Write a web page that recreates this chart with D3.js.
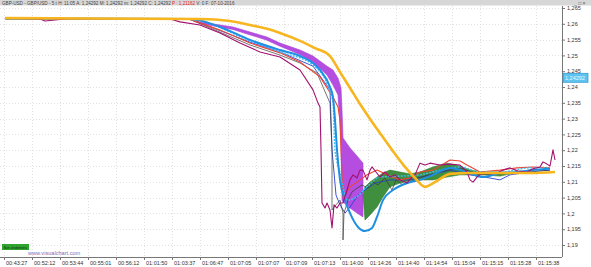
<!DOCTYPE html>
<html>
<head>
<meta charset="utf-8">
<script src="https://cdn.jsdelivr.net/npm/d3@7"></script>
<style>
  body { margin: 0; background: #fff; }
  svg { display: block; font-family: "Liberation Sans", Arial, sans-serif; }
</style>
</head>
<body>
<div id="chart"></div>
<script>
width = 591;
height = 267;
plot_box = {left: 0, right: 562, top: 6, bottom: 257};

// time labels every 28 bars (5 tick bars)
timeLabels = ["00:43:27", "00:52:12", "00:53:44", "00:55:01", "00:56:12", "01:01:50", "01:03:37",
              "01:06:47", "01:07:05", "01:07:07", "01:07:09", "01:07:13", "01:14:00", "01:14:26",
              "01:14:40", "01:14:54", "01:15:04", "01:15:15", "01:15:28", "01:15:38"];
priceTicks = [1.19, 1.195, 1.2, 1.205, 1.21, 1.215, 1.22, 1.225, 1.23, 1.235, 1.24, 1.245, 1.25, 1.255, 1.26, 1.265];
lastPrice = 1.24292;

// [bar, price]
slowAvg = [[1,1.2618],[196,1.2615],[226,1.2609],[246,1.2596],[263,1.2584],[276,1.2571],[296,1.2546],
  [311,1.2523],[326,1.2498],[336,1.2447],[346,1.2397],[356,1.2346],[366,1.2299],[376,1.2254],
  [388,1.2201],[401,1.2147],[411,1.2112],[421,1.2084],[431,1.2099],[446,1.2125],[466,1.2128],
  [496,1.2128],[526,1.2128],[551,1.2131]];

// [bar, upper, lower]
violetBand = [[1,1.2617,1.2615],[186,1.2615,1.2614],[196,1.2606,1.2601],[229,1.2590,1.2582],
  [263,1.2558,1.2548],[276,1.2539,1.2529],[296,1.2517,1.2503],[309,1.2498,1.2479],[323,1.2466,1.2438],
  [329,1.2454,1.2406],[334,1.2428,1.2375],[337,1.2397,1.2232],[338,1.2327,1.2042],[339,1.2239,1.2036],
  [346,1.2207,1.2017],[353,1.2182,1.2001],[359,1.2159,1.1989]];

greenBand = [[359,1.2058,1.2058],[361,1.2084,1.1979],[366,1.2099,1.1995],[373,1.2115,1.2020],
  [379,1.2128,1.2052],[386,1.2137,1.2084],[396,1.2131,1.2096],[406,1.2125,1.2103],[416,1.2131,1.2106],
  [429,1.2147,1.2106],[443,1.2159,1.2115],[456,1.2150,1.2122],[466,1.2137,1.2122],[479,1.2131,1.2122],
  [496,1.2131,1.2118],[511,1.2128,1.2128]];

fastAvg = [[1,1.2617],[186,1.2615],[216,1.2590],[246,1.2549],[276,1.2517],[296,1.2498],[309,1.2476],
  [316,1.2454],[326,1.2400],[329,1.2368],[331,1.2296],[333,1.2201],[336,1.2106],[341,1.2042],
  [346,1.2001],[354,1.1957],[361,1.1944],[368,1.1954],[373,1.1989],[379,1.2042],[389,1.2074],
  [403,1.2096],[416,1.2106],[429,1.2122],[446,1.2144],[463,1.2131],[479,1.2115],[496,1.2128],
  [513,1.2131],[529,1.2137],[546,1.2141]];

dottedAvg = [[1,1.2615],[186,1.2614],[246,1.2546],[276,1.2511],[309,1.2470],[326,1.2384],[329,1.2349],
  [331,1.2201],[336,1.2128],[339,1.2084],[343,1.2042],[351,1.2049],[363,1.2084],[376,1.2115],
  [396,1.2118],[416,1.2122],[436,1.2137],[456,1.2147],[476,1.2131],[496,1.2131],[526,1.2144],[546,1.2144]];

redAvg = [[1,1.2615],[186,1.2614],[216,1.2580],[246,1.2539],[276,1.2508],[296,1.2479],[316,1.2432],
  [329,1.2368],[334,1.2337],[336,1.2296],[337,1.2201],[338,1.2122],[339,1.2052],[343,1.2068],
  [346,1.2084],[356,1.2106],[363,1.2122],[373,1.2137],[386,1.2118],[396,1.2106],[406,1.2112],
  [416,1.2131],[429,1.2137],[446,1.2169],[456,1.2166],[463,1.2153],[476,1.2131],[496,1.2137],
  [513,1.2144],[529,1.2147],[546,1.2144]];

navyLine = [[1,1.2615],[186,1.2615],[246,1.2542],[276,1.2511],[309,1.2466],[326,1.2391],[328,1.2201],
  [332,1.2058],[336,1.2027],[341,1.2001],[346,1.2020],[354,1.2058],[361,1.2074],[371,1.2096],
  [386,1.2106],[406,1.2106],[426,1.2122],[446,1.2137],[466,1.2122],[486,1.2112],[496,1.2106],
  [506,1.2122],[526,1.2131],[546,1.2137]];

closeLine = [[1,1.2615],[186,1.2614],[246,1.2533],[276,1.2501],[296,1.2476],[313,1.2444],[326,1.2349],
  [328,1.2201],[328,1.2011],[332,1.2027],[336,1.2042],[339,1.2001],[339,1.1916],[340,1.2001],
  [344,1.2042],[348,1.2068],[353,1.2080],[358,1.2090],[364,1.2080],[369,1.2099],[374,1.2090],
  [381,1.2112],[388,1.2074],[392,1.2106],[399,1.2090],[406,1.2099],[414,1.2112],[421,1.2118],
  [436,1.2131],[456,1.2144],[476,1.2122],[496,1.2125],[516,1.2131],[546,1.2137]];

priceLine = [[1,1.2618],[36,1.2615],[41,1.2609],[51,1.2612],[66,1.2617],[166,1.2615],[176,1.2606],
  [196,1.2596],[216,1.2571],[236,1.2539],[256,1.2511],[276,1.2495],[296,1.2454],[309,1.2391],
  [314,1.2349],[316,1.2337],[317,1.2201],[318,1.2033],[321,1.2017],[323,1.2033],[326,1.2011],
  [328,1.1954],[330,1.2027],[333,1.2017],[336,1.2033],[339,1.2033],[343,1.2074],[346,1.2106],
  [349,1.2122],[353,1.2112],[356,1.2137],[359,1.2137],[363,1.2106],[366,1.2137],[368,1.2147],
  [372,1.2131],[376,1.2115],[381,1.2131],[386,1.2115],[391,1.2122],[396,1.2106],[403,1.2096],
  [408,1.2115],[411,1.2122],[416,1.2159],[421,1.2153],[426,1.2159],[436,1.2153],[446,1.2156],
  [456,1.2153],[463,1.2131],[466,1.2106],[469,1.2099],[473,1.2115],[479,1.2131],[486,1.2125],
  [493,1.2128],[499,1.2137],[506,1.2144],[514,1.2134],[523,1.2131],[529,1.2141],[536,1.2147],
  [539,1.2163],[543,1.2156],[546,1.2150],[549,1.2201],[551,1.2169]];

var xScale = d3.scaleLinear().domain([0, 561]).range([4, 565]);
var yScale = d3.scaleLinear().domain([1.19, 1.265]).range([245, 8]);
var fmt = d => String(d).replace(".", ",");

var svg = d3.select("#chart").append("svg")
    .attr("width", width)
    .attr("height", height);

svg.append("clipPath").attr("id", "plotclip")
    .append("rect")
    .attr("x", plot_box.left).attr("y", plot_box.top)
    .attr("width", plot_box.right - plot_box.left).attr("height", plot_box.bottom - plot_box.top);

// grid
var grid = svg.append("g").attr("stroke", "#d6d6d6").attr("stroke-dasharray", "1,2").attr("stroke-width", 0.7);
grid.selectAll(".hg").data(priceTicks).enter().append("line")
    .attr("x1", 0).attr("x2", plot_box.right)
    .attr("y1", d => Math.round(yScale(d)) + 0.5).attr("y2", d => Math.round(yScale(d)) + 0.5);
grid.selectAll(".vg").data(timeLabels).enter().append("line")
    .attr("x1", (d, i) => Math.round(xScale(i * 28)) + 0.5).attr("x2", (d, i) => Math.round(xScale(i * 28)) + 0.5)
    .attr("y1", plot_box.top).attr("y2", plot_box.bottom);

var plot = svg.append("g").attr("clip-path", "url(#plotclip)");

var bandArea = d3.area()
    .x(d => xScale(d[0]))
    .y0(d => yScale(d[2]))
    .y1(d => yScale(d[1]));

plot.append("path").datum(violetBand)
    .attr("d", bandArea)
    .attr("fill", "#b54de0")
    .attr("stroke", "#a43fd4")
    .attr("stroke-width", 0.6);

plot.append("path").datum(greenBand)
    .attr("d", bandArea)
    .attr("fill", "#3f8f3f")
    .attr("stroke", "#2f7a2f")
    .attr("stroke-width", 0.6);

var straight = d3.line().x(d => xScale(d[0])).y(d => yScale(d[1]));
var smooth = d3.line().x(d => xScale(d[0])).y(d => yScale(d[1])).curve(d3.curveMonotoneX);

function drawLine(data, gen, color, w, dash) {
    var p = plot.append("path").datum(data)
        .attr("d", gen)
        .attr("fill", "none")
        .attr("stroke", color)
        .attr("stroke-width", w)
        .attr("stroke-linejoin", "round");
    if (dash) p.attr("stroke-dasharray", dash);
}

drawLine(navyLine, straight, "#2b3fd0", 0.9);
drawLine(closeLine, straight, "#3a3a3a", 0.7);
drawLine(redAvg, straight, "#ee4534", 1.1);
drawLine(dottedAvg, smooth, "#3fc0f0", 1.4, "2,1.2");
drawLine(fastAvg, smooth, "#1e8fe2", 2);
drawLine(priceLine, straight, "#a3106f", 1.1);
drawLine(slowAvg, smooth, "#f7b620", 2.6);

// axes
var yAxis = d3.axisRight(yScale).tickValues(priceTicks).tickFormat(fmt).tickSize(3).tickPadding(2);
var yg = svg.append("g")
    .attr("transform", "translate(" + plot_box.right + ",0)")
    .call(yAxis);
yg.select(".domain").attr("d", "M0.5," + plot_box.top + "V" + plot_box.bottom).attr("stroke", "#777");
yg.selectAll(".tick line").attr("stroke", "#777");
yg.selectAll("text").attr("font-size", 5.5).attr("fill", "#333").attr("font-family", "Liberation Sans, Arial");

var xAxis = d3.axisBottom(xScale).tickValues(timeLabels.map((d, i) => i * 28))
    .tickFormat((d, i) => timeLabels[i]).tickSize(3);
var xg = svg.append("g")
    .attr("transform", "translate(0," + plot_box.bottom + ")")
    .call(xAxis);
xg.select(".domain").attr("d", "M0,0.5H" + plot_box.right).attr("stroke", "#777");
xg.selectAll(".tick line").attr("stroke", "#777");
xg.selectAll("text")
    .attr("text-anchor", "start").attr("x", 1.5).attr("dy", 0).attr("y", 8)
    .attr("font-size", 5.5).attr("fill", "#333").attr("font-family", "Liberation Sans, Arial");

// last price box
svg.append("rect")
    .attr("x", plot_box.right + 1).attr("y", yScale(lastPrice) - 4.5)
    .attr("width", 25).attr("height", 9)
    .attr("fill", "#5ec4ef").attr("stroke", "#2c92cc").attr("stroke-width", 0.7);
svg.append("text")
    .attr("x", plot_box.right + 3).attr("y", yScale(lastPrice) + 2)
    .attr("font-size", 5.5).attr("fill", "#eaf8ff")
    .text(fmt(lastPrice));

// header bar
svg.append("rect").attr("x", 0).attr("y", 0).attr("width", width).attr("height", 5.5).attr("fill", "#d7d7d7");
var head = svg.append("text").attr("x", 2).attr("y", 4.6).attr("font-size", 4.6).attr("fill", "#444");
head.append("tspan").text("GBP-USD - GBP/USD -  5 t H: 11:05 A: 1,24292 M: 1,24292 m: 1,24292 C: 1,24292 ");
head.append("tspan").attr("fill", "#e02020").text("P : 1,21162");
head.append("tspan").text(" V: 0 F: 07-10-2016");
svg.append("text").attr("x", 574).attr("y", 4.8).attr("font-size", 5).attr("fill", "#555").text("_ \u25a1 \u00d7");

// bottom-left labels
svg.append("rect").attr("x", 2).attr("y", 244).attr("width", 27).attr("height", 6).attr("fill", "#2fa52f");
svg.append("text").attr("x", 3.5).attr("y", 248.8).attr("font-size", 4.4).attr("fill", "#10300f").text("Sin órdenes");
svg.append("text").attr("x", 28).attr("y", 254.5).attr("font-size", 5.6).attr("fill", "#7a70b8").text("www.visualchart.com");
</script>
</body>
</html>
